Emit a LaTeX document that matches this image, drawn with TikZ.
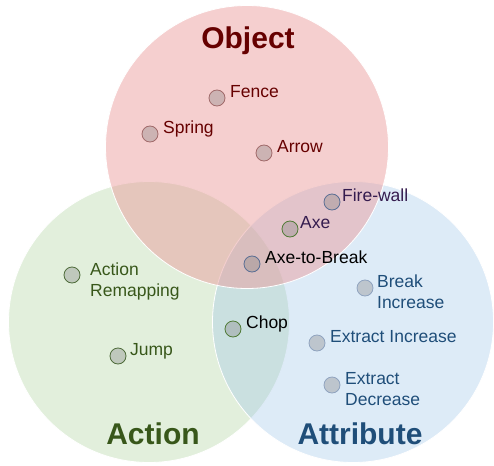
\documentclass[tikz,border=0pt]{standalone}
\usepackage{fontspec}
\setmainfont{Liberation Sans}
\usepackage{tikz}

\definecolor{objfill}{HTML}{EA9999}
\definecolor{actfill}{HTML}{B6D7A8}
\definecolor{attfill}{HTML}{9FC5E8}
\definecolor{objtext}{HTML}{660000}
\definecolor{acttext}{HTML}{38571A}
\definecolor{atttext}{HTML}{1F4E79}
\definecolor{mixtext}{HTML}{351C4F}
\definecolor{objedge}{HTML}{A06A6A}
\definecolor{actedge}{HTML}{4E6B3A}
\definecolor{attedge}{HTML}{8FA3BF}
\definecolor{axeedge}{HTML}{4F7A35}
\definecolor{mixedge}{HTML}{5A6E94}

\tikzset{
  setcircle/.style={circle, draw=white, line width=0.8pt, minimum size=#1, inner sep=0pt},
  dot/.style={circle, draw=#1, line width=0.8pt, fill=gray, fill opacity=0.35, draw opacity=1, minimum size=16pt, inner sep=0pt},
  lbl/.style={text=#1, anchor=north west, inner sep=0pt, align=left, font=\fontsize{17.5}{21}\selectfont},
  settitle/.style={text=#1, font=\bfseries\fontsize{30}{34}\selectfont}
}

\begin{document}
\begin{tikzpicture}[x=1pt,y=-1pt]
\useasboundingbox (0,0) rectangle (494,465);
% the three sets
\node[setcircle=281pt, fill=actfill, fill opacity=0.4] (action) at (149,322) {};
\node[setcircle=281pt, fill=attfill, fill opacity=0.35] (attribute) at (353,322) {};
\node[setcircle=283pt, fill=objfill, fill opacity=0.47] (object) at (247,147) {};
% titles
\node[settitle=objtext] (objtitle) at (248,41) {Object};
\node[settitle=acttext] (acttitle) at (153,434) {Action};
\node[settitle=atttext] (atttitle) at (360,434) {Attribute};
% object members
\node[dot=objedge] (fence) at (217,98) {};
\node[dot=objedge] (spring) at (150,134) {};
\node[dot=objedge] (arrow) at (264,153) {};
\node[lbl=objtext] (fencel) at ([xshift=7pt,yshift=7pt]fence.north east) {Fence};
\node[lbl=objtext] (springl) at ([xshift=7pt,yshift=7pt]spring.north east) {Spring};
\node[lbl=objtext] (arrowl) at ([xshift=7pt,yshift=7pt]arrow.north east) {Arrow};
% object and attribute
\node[dot=mixedge] (firewall) at (332,202) {};
\node[dot=axeedge] (axe) at (290,229) {};
\node[lbl=mixtext] (firewalll) at ([xshift=4pt,yshift=7pt]firewall.north east) {Fire-wall};
\node[lbl=mixtext] (axel) at ([xshift=4pt,yshift=7pt]axe.north east) {Axe};
% all three
\node[dot=mixedge] (axetobreak) at (252,264) {};
\node[lbl=black] (axetobreakl) at ([xshift=7pt,yshift=7pt]axetobreak.north east) {Axe-to-Break};
% action and attribute
\node[dot=axeedge] (chop) at (233,329) {};
\node[lbl=black] (chopl) at ([xshift=7pt,yshift=7pt]chop.north east) {Chop};
% attribute members
\node[dot=attedge] (breakinc) at (365,288) {};
\node[dot=attedge] (extractinc) at (317,343) {};
\node[dot=attedge] (extractdec) at (332,385) {};
\node[lbl=atttext] (breakincl) at ([xshift=6pt,yshift=7pt]breakinc.north east) {Break\\Increase};
\node[lbl=atttext] (extractincl) at ([xshift=7pt,yshift=7pt]extractinc.north east) {Extract Increase};
\node[lbl=atttext] (extractdecl) at ([xshift=7pt,yshift=7pt]extractdec.north east) {Extract\\Decrease};
% action members
\node[dot=actedge] (remap) at (72,275) {};
\node[dot=actedge] (jump) at (118,356) {};
\node[lbl=acttext] (remapl) at ([xshift=12pt,yshift=6pt]remap.north east) {Action\\Remapping};
\node[lbl=acttext] (jumpl) at ([xshift=6pt,yshift=7pt]jump.north east) {Jump};
\end{tikzpicture}
\end{document}
